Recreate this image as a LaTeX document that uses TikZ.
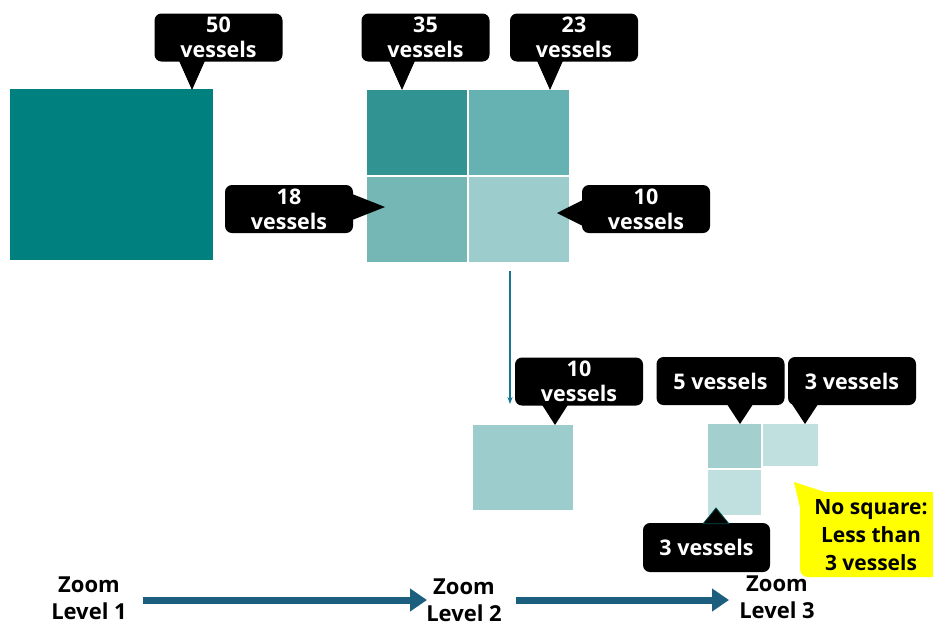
\documentclass[tikz,border=0pt]{standalone}
\usepackage{fontspec}
\setmainfont{Open Sans}
\usetikzlibrary{arrows.meta,calc}

\definecolor{tealA}{RGB}{1,128,128}
\definecolor{tealB}{RGB}{50,147,147}
\definecolor{tealC}{RGB}{102,178,178}
\definecolor{tealD}{RGB}{116,183,181}
\definecolor{tealE}{RGB}{156,204,203}
\definecolor{tealF}{RGB}{163,207,206}
\definecolor{tealG}{RGB}{192,224,223}
\definecolor{flowblue}{RGB}{27,94,126}
\definecolor{noteyellow}{RGB}{255,255,0}

% pointers of the speech boxes: #1 box, #2 tip
\newcommand\ptrdown[2]{\fill ($(#1.south -| #2)+(-13,-1)$) -- (#2) -- ($(#1.south -| #2)+(13,-1)$) -- cycle;}
\newcommand\ptrup[2]{\filldraw[draw=tealA!60!black,line width=0.8pt] ($(#1.north -| #2)+(-13,1)$) -- (#2) -- ($(#1.north -| #2)+(13,1)$) -- cycle;}
\newcommand\ptrright[2]{\fill ($(#1.east |- #2)+(-1,-13)$) -- (#2) -- ($(#1.east |- #2)+(-1,13)$) -- cycle;}
\newcommand\ptrleft[2]{\fill ($(#1.west |- #2)+(1,-13)$) -- (#2) -- ($(#1.west |- #2)+(1,13)$) -- cycle;}

\begin{document}
\begin{tikzpicture}[x=1pt,y=-1pt,
  cell/.style={inner sep=0pt,outer sep=0pt,draw=none},
  callout/.style={fill=black,text=white,rounded corners=7pt,inner sep=0pt,
    minimum width=128pt,minimum height=48pt,align=center,
    font=\bfseries\fontsize{21.5}{25}\selectfont},
  level/.style={align=center,inner sep=0pt,font=\bfseries\fontsize{22}{27}\selectfont},
  bigarrow/.style={draw=flowblue,line width=7pt,
    -{Triangle[length=17pt,width=22pt]}},
  thinarrow/.style={draw=flowblue!85!cyan,line width=1.1pt,
    -{Stealth[length=7pt,width=5pt]}}]

\useasboundingbox (0,0) rectangle (933,625);

% zoom level 1: one square
\node[cell,fill=tealA,minimum width=203pt,minimum height=171pt] (big) at (111.5,174.5) {};

% zoom level 2: four squares
\node[cell,fill=tealB,minimum width=100pt,minimum height=85pt] (q1) at (417,132.5) {};
\node[cell,fill=tealC,minimum width=100pt,minimum height=85pt] (q2) at (519,132.5) {};
\node[cell,fill=tealD,minimum width=100pt,minimum height=85pt] (q3) at (417,219.5) {};
\node[cell,fill=tealE,minimum width=100pt,minimum height=85pt] (q4) at (519,219.5) {};

% zoomed square
\node[cell,fill=tealE,minimum width=100pt,minimum height=85pt] (z2) at (523,467.5) {};

% zoom level 3: three small squares
\node[cell,fill=tealF,minimum width=53pt,minimum height=44pt] (s1) at (734.5,446) {};
\node[cell,fill=tealG,minimum width=55pt,minimum height=42pt] (s2) at (790.5,445) {};
\node[cell,fill=tealG,minimum width=53pt,minimum height=45pt] (s3) at (734.5,492.5) {};

% speech boxes
\node[callout] (c50) at (218.5,37.5) {50\\vessels};
\coordinate (t50) at (192,90);
\ptrdown{c50}{t50}

\node[callout] (c35) at (425.5,37.5) {35\\vessels};
\coordinate (t35) at (402,90);
\ptrdown{c35}{t35}

\node[callout] (c23) at (574,37.5) {23\\vessels};
\coordinate (t23) at (550,90);
\ptrdown{c23}{t23}

\node[callout] (c18) at (289,209) {18\\vessels};
\coordinate (t18) at (385,207);
\ptrright{c18}{t18}

\node[callout] (c10a) at (646,209) {10\\vessels};
\coordinate (t10a) at (557,213);
\ptrleft{c10a}{t10a}

\node[callout] (c10b) at (579,381.5) {10\\vessels};
\coordinate (t10b) at (555,425);
\ptrdown{c10b}{t10b}

\node[callout] (c5) at (720.5,381) {5 vessels};
\coordinate (t5) at (740,424);
\ptrdown{c5}{t5}

\node[callout] (c3a) at (852,381) {3 vessels};
\coordinate (t3a) at (805,424);
\ptrdown{c3a}{t3a}

\node[callout,minimum width=127pt,minimum height=49pt] (c3b) at (706.5,547.5) {3 vessels};
\coordinate (t3b) at (716,508);
\ptrup{c3b}{t3b}

% drill-down arrow from level 2 to the zoomed square
\coordinate (dstart) at (510,271);
\coordinate (dend) at (510,404);
\draw[thinarrow] (dstart) -- (dend);

% yellow note
\node[fill=noteyellow,rounded corners=8pt,inner sep=0pt,
  minimum width=144pt,minimum height=85pt] (note) at (872,534.5) {};
\coordinate (tnote) at (794,482);
\fill[noteyellow] (tnote) -- (828,493) -- (801,512) -- cycle;
\node[align=center,font=\bfseries\fontsize{21}{28}\selectfont] (notetext)
  at (871,535) {No square:\\Less than\\3 vessels};

% zoom levels along the bottom
\node[level] (lvl1) at (89,598) {Zoom\\Level 1};
\node[level] (lvl2) at (464,600) {Zoom\\Level 2};
\node[level] (lvl3) at (777,597) {Zoom\\Level 3};
\coordinate (a1s) at (143,600);
\coordinate (a1e) at (427,600);
\coordinate (a2s) at (516,600);
\coordinate (a2e) at (729,600);
\draw[bigarrow] (a1s) -- (a1e);
\draw[bigarrow] (a2s) -- (a2e);

\end{tikzpicture}
\end{document}
